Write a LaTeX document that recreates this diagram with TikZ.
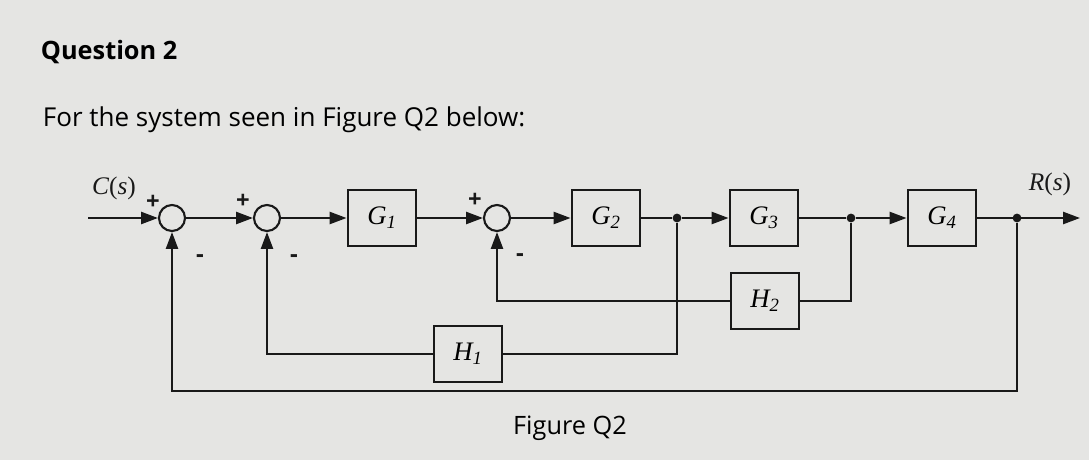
\documentclass[tikz,border=0pt]{standalone}
\usepackage{fontspec}
\setmainfont{Liberation Serif}
\newfontfamily\headfont{Open Sans}
\usetikzlibrary{arrows.meta,positioning}
\definecolor{paper}{RGB}{229,229,227}
\definecolor{ink}{RGB}{25,25,25}
\tikzstyle{block} = [rectangle, draw=ink, line width=1.5pt, minimum
height=1.38cm, minimum width=1.72cm, font=\fontsize{19}{19}\selectfont\itshape]
\tikzstyle{sumPoint} = [circle, draw=ink, line width=1.5pt, minimum size=0.65cm, inner sep=0pt]
\tikzstyle{connectPoint} = [circle, fill=ink, inner sep=0pt, minimum size=0.22cm]
\tikzstyle{wire} = [draw=ink, line width=1.5pt]
\tikzstyle{line} = [wire, -{Triangle[length=0.42cm,width=0.3cm]}]
\tikzstyle{sign} = [font=\headfont\bfseries\fontsize{17}{17}\selectfont, text=ink]
\tikzstyle{signal} = [font=\fontsize{18}{18}\selectfont, text=ink]

\begin{document}
\begin{tikzpicture}[x=0.025cm, y=-0.025cm]

   \fill[paper] (0,0) rectangle (1089,460);
   \useasboundingbox (0,0) rectangle (1089,460);

   % Question text
   \node[anchor=west, font=\headfont\bfseries\fontsize{18}{18}\selectfont] (title) at (36,52) {Question 2};
   \node[anchor=west, font=\headfont\fontsize{18.5}{18.5}\selectfont] (intro) at (38,120) {For the system seen in Figure Q2 below:};

   % Summing points and blocks
   \node[sumPoint] (S1) at (172,218) {};
   \node[sumPoint] (S2) at (267,218) {};
   \node[block] (G1) at (382,218) {G\textsubscript{1}};
   \node[sumPoint] (S3) at (497,218) {};
   \node[block] (G2) at (606,218) {G\textsubscript{2}};
   \node[connectPoint] (nodeOut2) at (677,218) {};
   \node[block] (G3) at (764,218) {G\textsubscript{3}};
   \node[connectPoint] (nodeOut3) at (851,218) {};
   \node[block] (G4) at (942,218) {G\textsubscript{4}};
   \node[connectPoint] (nodeOut4) at (1017,218) {};

   % Feedback blocks
   \node[block] (H2) at (765,301) {H\textsubscript{2}};
   \node[block] (H1) at (468,354) {H\textsubscript{1}};

   \coordinate (in)  at (88,218);
   \coordinate (out) at (1080,218);
   \coordinate (low) at (172,391);

   % Signals and signs
   \node[signal] (Cs) at (114,188) {\textit{C}(\textit{s})};
   \node[signal] (Rs) at (1050,184) {\textit{R}(\textit{s})};
   \node[sign] (p1) at (153,202) {+};
   \node[sign] (m1) at (200,259) {-};
   \node[sign] (p2) at (243,201) {+};
   \node[sign] (m2) at (294,259) {-};
   \node[sign] (p3) at (475,200) {+};
   \node[sign] (m3) at (520,258) {-};

   %% Lines

   \path[line] (in) -- (S1);
   \path[line] (S1) -- (S2);
   \path[line] (S2) -- (G1);
   \path[line] (G1) -- (S3);
   \path[line] (S3) -- (G2);
   \path[wire] (G2) -- (nodeOut2);
   \path[line] (nodeOut2) -- (G3);
   \path[wire] (G3) -- (nodeOut3);
   \path[line] (nodeOut3) -- (G4);
   \path[line] (G4) -- (out);

   % Feedback loops
   \path[wire] (nodeOut3) |- (H2);
   \path[line] (H2) -| (S3);
   \path[wire] (nodeOut2) |- (H1);
   \path[line] (H1) -| (S2);
   \path[line] (nodeOut4) |- (low) -- (S1);

   \node[font=\headfont\fontsize{18}{18}\selectfont] (caption) at (570,428) {Figure Q2};

\end{tikzpicture}
\end{document}
